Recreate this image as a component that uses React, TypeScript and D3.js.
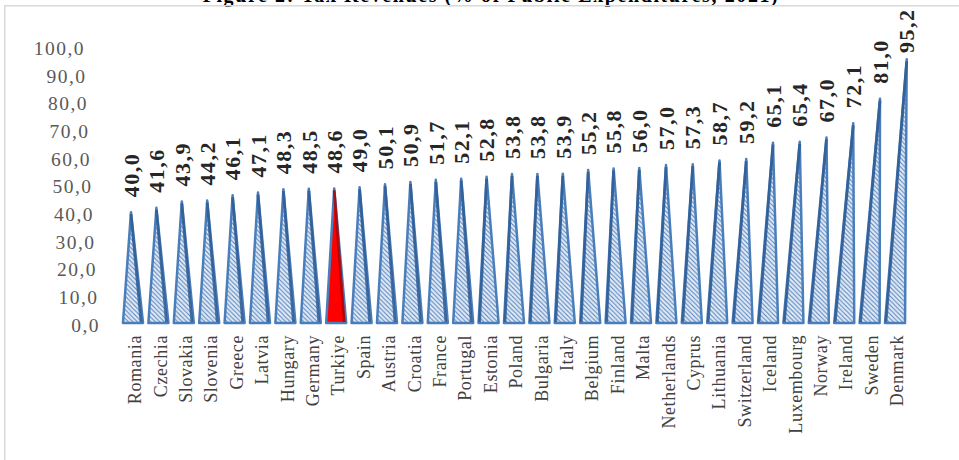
import React from "react";
import * as d3 from "d3";

const title = "Figure 2: Tax Revenues (% of Public Expenditures, 2021)";
const categories = [
  "Romania", "Czechia", "Slovakia", "Slovenia", "Greece", "Latvia", "Hungary", "Germany",
  "Turkiye", "Spain", "Austria", "Croatia", "France", "Portugal", "Estonia", "Poland",
  "Bulgaria", "Italy", "Belgium", "Finland", "Malta", "Netherlands", "Cyprus", "Lithuania",
  "Switzerland", "Iceland", "Luxembourg", "Norway", "Ireland", "Sweden", "Denmark",
];
const values = [
  40.0, 41.6, 43.9, 44.2, 46.1, 47.1, 48.3, 48.5, 48.6, 49.0, 50.1, 50.9, 51.7, 52.1, 52.8,
  53.8, 53.8, 53.9, 55.2, 55.8, 56.0, 57.0, 57.3, 58.7, 59.2, 65.1, 65.4, 67.0, 72.1, 81.0, 95.2,
];
const highlight = "Turkiye";
const yTicks = [0, 10, 20, 30, 40, 50, 60, 70, 80, 90, 100];

const W = 959;
const H = 460;
const fmt = (v: number) => d3.format(".1f")(v).replace(".", ",");

export default function App() {
  const x = d3
    .scaleBand<string>()
    .domain(categories)
    .range([120.3, 907.7])
    .paddingInner(0.21)
    .paddingOuter(0.105);
  const y = d3.scaleLinear().domain([0, 100]).range([323, 46]);
  const base = y(0);
  const bw = x.bandwidth();

  return (
    <div style={{ position: "absolute", left: 0, top: 0 }}>
      <svg width={W} height={H} style={{ display: "block" }}>
        <defs>
          <pattern id="hatch" patternUnits="userSpaceOnUse" width="4.5" height="4.5">
            <rect width="4.5" height="4.5" fill="#e2eaf5" />
            <path d="M-1,-1 L5.5,5.5 M-1,3.5 L1,5.5 M3.5,-1 L5.5,1" stroke="#4f81bd" strokeWidth="1" />
          </pattern>
        </defs>
        <rect width={W} height={H} fill="#fff" />
        <text
          x={491}
          y={1.5}
          textAnchor="middle"
          fontFamily="'Liberation Serif', serif"
          fontWeight="bold"
          fontSize={20}
          letterSpacing={1.6}
          fill="#000"
        >
          {title}
        </text>
        <path d={`M4.75,${H} L4.75,5.75 L${W},5.75`} fill="none" stroke="#d9d9d9" strokeWidth={1.5} />

        {yTicks.map((t) => (
          <text
            key={t}
            x={100 - 15 * (t / 100)}
            y={y(t) + 2}
            dy="0.35em"
            textAnchor="end"
            fontFamily="'Liberation Serif', serif"
            fontSize={19.5}
            letterSpacing={1.5}
            fill="#595959"
          >
            {fmt(t)}
          </text>
        ))}

        {categories.map((c, i) => {
          const v = values[i];
          const x0 = x(c)!;
          const x1 = x0 + bw;
          const cx = x0 + bw / 2;
          const off = -2 + 0.053 * Math.max(0, cx - 636);
          const ax = cx + off;
          const ay = y(v);
          const isHi = c === highlight;
          const rightSide = cx < 480;
          const dark = isHi ? "#b00000" : "#2f5c94";
          const edgeEnd = rightSide ? x1 - 2 : x0 + 1;
          const labelStart = Math.max(ay - 15, 53);
          return (
            <g key={c}>
              <path
                d={`M${x0},${base} L${ax},${ay} L${x1},${base} Z`}
                fill={isHi ? "#ff0000" : "url(#hatch)"}
                stroke="#4a7ebb"
                strokeWidth={2.5}
                strokeLinejoin="round"
              />
              <path
                d={`M${ax},${ay + 2} L${edgeEnd},${base - 1}`}
                stroke={dark}
                strokeWidth={2.8}
                opacity={0.85}
              />
              <text
                transform={`translate(${ax},${labelStart}) rotate(-90)`}
                dy="0.35em"
                textAnchor="start"
                fontFamily="'Liberation Serif', serif"
                fontWeight="bold"
                fontSize={22}
                letterSpacing={1.5}
                fill="#262626"
              >
                {fmt(v)}
              </text>
              <text
                transform={`translate(${cx},335) rotate(-90)`}
                dy="0.45em"
                textAnchor="end"
                fontFamily="'Liberation Serif', serif"
                fontSize={18}
                letterSpacing={0.6}
                fill="#404040"
              >
                {c}
              </text>
            </g>
          );
        })}
      </svg>
    </div>
  );
}
